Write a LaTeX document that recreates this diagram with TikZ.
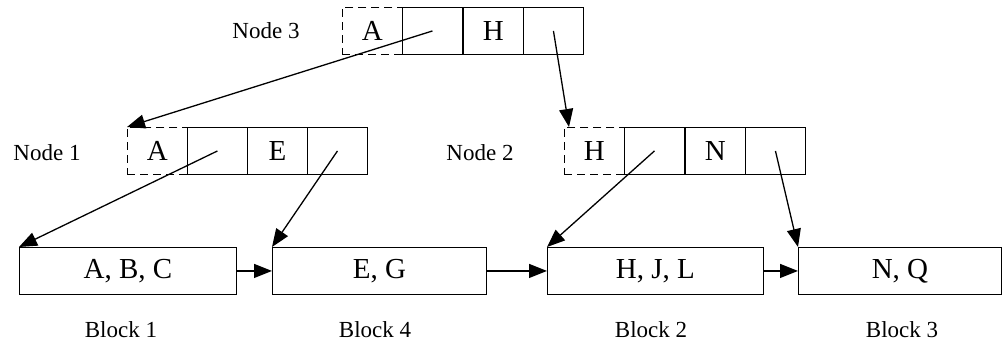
\documentclass[tikz,border=0pt]{standalone}
\usepackage{fontspec}
\setmainfont{Liberation Serif}
\usetikzlibrary{arrows.meta}
\begin{document}
\begin{tikzpicture}[x=1pt,y=-1pt,
  cell/.style={draw,line width=0.9pt,minimum width=60pt,minimum height=47pt,inner sep=0pt,anchor=north west,font=\fontsize{29}{29}\selectfont},
  dcell/.style={cell,dash pattern=on 8pt off 5pt},
  block/.style={draw,line width=0.9pt,minimum height=47pt,inner sep=0pt,anchor=north west,font=\fontsize{29}{29}\selectfont},
  lbl/.style={font=\fontsize{23}{23}\selectfont,inner sep=0pt},
  arr/.style={line width=1.3pt,-{Triangle[length=18pt,width=14pt]}}]
\useasboundingbox (0,0) rectangle (1003,346);
% Node 3
\node[lbl] (l3) at (266,31) {Node 3};
\node[dcell] (n3a) at (342,7) {A};
\node[cell] (n3b) at (402,7) {};
\node[cell] (n3c) at (463,7) {H};
\node[cell] (n3d) at (523,7) {};
% Node 1
\node[lbl] (l1) at (47,153) {Node 1};
\node[dcell] (n1a) at (127,127) {A};
\node[cell] (n1b) at (187,127) {};
\node[cell] (n1c) at (247,127) {E};
\node[cell] (n1d) at (307,127) {};
% Node 2
\node[lbl] (l2) at (480,153) {Node 2};
\node[dcell] (n2a) at (564,127) {H};
\node[cell] (n2b) at (624,127) {};
\node[cell] (n2c) at (685,127) {N};
\node[cell] (n2d) at (745,127) {};
% Blocks
\node[block,minimum width=217pt] (b1) at (19,247) {A, B, C};
\node[block,minimum width=214pt] (b4) at (272,247) {E, G};
\node[block,minimum width=216pt] (b2) at (547,247) {H, J, L};
\node[block,minimum width=203pt] (b3) at (798,247) {N, Q};
\node[lbl] (t1) at (121,330) {Block 1};
\node[lbl] (t4) at (375,330) {Block 4};
\node[lbl] (t2) at (651,330) {Block 2};
\node[lbl] (t3) at (902,330) {Block 3};
% arrows
\draw[arr] (n3b.center) -- (n1a.north west);
\draw[arr] (n3d.center) -- ([xshift=5pt]n2a.north west);
\draw[arr] (n1b.center) -- (b1.north west);
\draw[arr] (n1d.center) -- (b4.north west);
\draw[arr] (n2b.center) -- (b2.north west);
\draw[arr] (n2d.center) -- (b3.north west);
\draw[arr] (b1.east) -- (b4.west);
\draw[arr] (b4.east) -- (b2.west);
\draw[arr] (b2.east) -- (b3.west);
\end{tikzpicture}
\end{document}
